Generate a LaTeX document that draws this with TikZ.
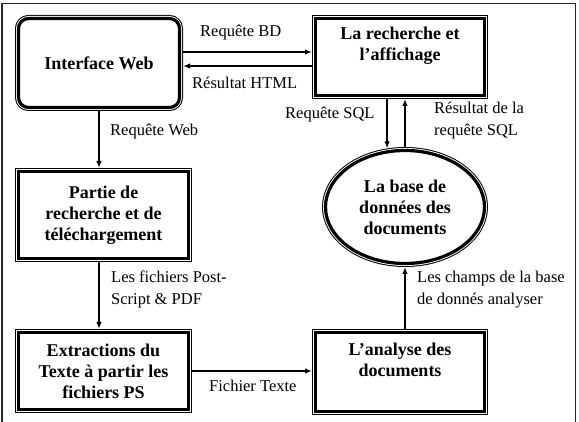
\documentclass[tikz,border=0pt]{standalone}
\usepackage{fontspec}
\setmainfont{Liberation Serif}
\usetikzlibrary{arrows.meta, shapes.geometric}
\tikzset{
x=1pt, y=-1pt, % coordinates in pixels of the sheet
>={Latex[length=7pt,width=5.5pt]}, % small filled arrow heads
flow/.style={->, line width=1.4pt}, % the arrows between the parts
labeltext/.style={align=left, inner sep=0pt, anchor=west, font=\fontsize{16.5}{22}\selectfont}, % texts on the arrows
partbox/.style={preaction={draw, line width=7pt}, preaction={draw, white, line width=5pt}, fill=white, draw, line width=3.2pt, outer sep=3.5pt, align=center, inner sep=2pt, font=\fontsize{18}{21}\selectfont\bfseries}, % thin line round a thick one
webbox/.style={partbox, rounded corners=10pt},
basebox/.style={partbox, ellipse, inner sep=0pt},
textup/.style={text depth=#1} % pushes the text to the top of its box
}

\begin{document}
\begin{tikzpicture}
      \useasboundingbox (0,0) rectangle (579,422);
      % frame of the figure
      \draw[line width=1.3pt, black!85] (2,422) -- (2,3.5) -- (575.5,3.5) -- (575.5,422);

      \node[webbox, minimum width=161pt, minimum height=89pt] (web) at (99,63) {Interface Web};
      \node[partbox, textup=26.5pt, minimum width=169pt, minimum height=77pt] (recherche) at (400,57) {La recherche et\\l'affichage};
      \node[partbox, minimum width=170pt, minimum height=87pt] (partie) at (103.5,215) {Partie de\\recherche et de\\t\'el\'echargement};
      \node[partbox, minimum width=170pt, minimum height=77pt] (extraction) at (103.5,371) {Extractions du\\Texte \`a partir les\\fichiers PS};
      \node[partbox, textup=24.5pt, minimum width=169pt, minimum height=79pt] (analyse) at (400,372) {L'analyse des\\documents};
      \node[basebox, minimum width=159pt, minimum height=113pt] (base) at (405,207) {La base de\\donn\'ees des\\documents};

      \coordinate (bd) at ([yshift=11pt]web.east);
      \coordinate (html) at ([yshift=-3pt]web.east);
      \draw[flow] (bd) -- (bd -| recherche.west);
      \draw[flow] (html -| recherche.west) -- (html);
      \draw[flow] (web.south) -- (web.south |- partie.north);
      \draw[flow] (partie.south -| web.south) -- (web.south |- extraction.north);
      \draw[flow] (extraction.east) -- (extraction.east -| analyse.west);
      \draw[flow] (analyse.north -| base.south) -- (base.south);
      \draw[flow] (base.107 |- recherche.south) -- (base.107);
      \draw[flow] (base.north) -- (base.north |- recherche.south);

      \node[labeltext] (lbd) at (200,33) {Requ\^ete BD};
      \node[labeltext] (lhtml) at (192,83) {R\'esultat HTML};
      \node[labeltext] (lweb) at (110,132) {Requ\^ete Web};
      \node[labeltext] (lfichiers) at (111,289) {Les fichiers Post-\\Script \& PDF};
      \node[labeltext] (ltexte) at (209,386) {Fichier Texte};
      \node[labeltext] (lsql) at (285,115) {Requ\^ete SQL};
      \node[labeltext] (lresultat) at (434,121) {R\'esultat de la\\requ\^ete SQL};
      \node[labeltext] (lchamps) at (417,289.5) {Les champs de la base\\de donn\'es analyser};
\end{tikzpicture}
\end{document}
